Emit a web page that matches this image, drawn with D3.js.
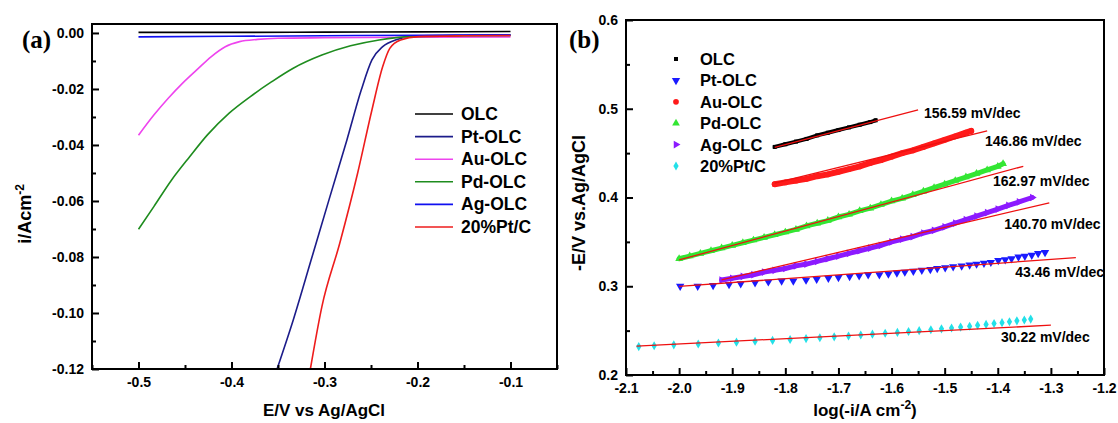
<!DOCTYPE html>
<html>
<head>
<meta charset="utf-8">
<script src="https://cdn.jsdelivr.net/npm/d3@7"></script>
<style>
  body { margin: 0; background: #fff; }
  svg { display: block; font-family: "Liberation Sans", Arial, sans-serif; font-weight: bold; }
</style>
</head>
<body>
<svg id="chart" width="1118" height="423"></svg>
<script>
// ---- panel (a): LSV curves, [E (V), i (A/cm2)]
const lsvOLC = [[-0.5, 0.0002], [-0.4, 0.0002], [-0.3, 0.0003], [-0.2, 0.0004], [-0.1, 0.0005]]
const lsvPt = [[-0.351, -0.12], [-0.3336, -0.1025], [-0.3144, -0.0811], [-0.2952, -0.0596], [-0.2759, -0.0382],
  [-0.2605, -0.0204], [-0.249, -0.0096], [-0.2374, -0.0049], [-0.222, -0.0023], [-0.2028, -0.0011], [-0.15, -0.0008], [-0.1, -0.0007]]
const lsvAu = [[-0.5, -0.0365], [-0.4835, -0.0293], [-0.468, -0.0233], [-0.4528, -0.018], [-0.4374, -0.0132],
  [-0.422, -0.0085], [-0.4067, -0.0049], [-0.3913, -0.0031], [-0.372, -0.0023], [-0.35, -0.0019], [-0.3, -0.0017],
  [-0.2, -0.0015], [-0.1, -0.0014]]
const lsvPd = [[-0.5, -0.0701], [-0.4835, -0.062], [-0.4644, -0.0525], [-0.445, -0.0442], [-0.4259, -0.0364],
  [-0.4028, -0.0287], [-0.3797, -0.0227], [-0.3567, -0.0174], [-0.3336, -0.0126], [-0.3028, -0.0079],
  [-0.272, -0.0046], [-0.2413, -0.0025], [-0.2067, -0.0013], [-0.15, -0.001], [-0.1, -0.0009]]
const lsvAg = [[-0.5, -0.0014], [-0.4, -0.0012], [-0.3, -0.001], [-0.2, -0.0008], [-0.1, -0.0007]]
const lsvPtC = [[-0.3152, -0.12], [-0.3028, -0.0977], [-0.2836, -0.0751], [-0.2644, -0.0501], [-0.249, -0.0275],
  [-0.2374, -0.012], [-0.2298, -0.0055], [-0.2182, -0.0025], [-0.199, -0.0013], [-0.15, -0.001], [-0.1, -0.0009]]

const namesA = ['OLC', 'Pt-OLC', 'Au-OLC', 'Pd-OLC', 'Ag-OLC', '20%Pt/C']
const colorsA = ['#000000', '#1c1c8a', '#ee44ee', '#1e8c1e', '#1010f0', '#ee1c1c']
const seriesA = [lsvOLC, lsvPt, lsvAu, lsvPd, lsvAg, lsvPtC]

const xTicksA = [-0.5, -0.4, -0.3, -0.2, -0.1]
const xMinorA = [-0.55, -0.45, -0.35, -0.25, -0.15, -0.05]
const yTicksA = [0, -0.02, -0.04, -0.06, -0.08, -0.1, -0.12]
const yMinorA = [-0.01, -0.03, -0.05, -0.07, -0.09, -0.11]

// ---- panel (b): Tafel plots, [log(-i), -E]
const tafOLC = [[-1.82, 0.457], [-1.8, 0.46], [-1.78, 0.463], [-1.76, 0.466], [-1.74, 0.47], [-1.72, 0.473],
  [-1.7, 0.476], [-1.68, 0.479], [-1.66, 0.482], [-1.64, 0.485], [-1.63, 0.487]]
const tafPt = [[-1.998, 0.3], [-1.965, 0.3], [-1.936, 0.301], [-1.906, 0.302], [-1.884, 0.303], [-1.857, 0.304],
  [-1.832, 0.305], [-1.807, 0.306], [-1.785, 0.306], [-1.761, 0.307], [-1.741, 0.308], [-1.719, 0.309],
  [-1.7, 0.31], [-1.679, 0.311], [-1.661, 0.312], [-1.644, 0.313], [-1.623, 0.313], [-1.606, 0.314],
  [-1.59, 0.315], [-1.575, 0.316], [-1.559, 0.317], [-1.543, 0.318], [-1.527, 0.319], [-1.514, 0.32],
  [-1.499, 0.321], [-1.484, 0.322], [-1.468, 0.323], [-1.453, 0.324], [-1.44, 0.325], [-1.426, 0.326],
  [-1.413, 0.327], [-1.399, 0.329], [-1.386, 0.33], [-1.374, 0.331], [-1.361, 0.333], [-1.349, 0.334],
  [-1.336, 0.335], [-1.324, 0.337], [-1.311, 0.338]]
const tafAu = [[-1.82, 0.415], [-1.8, 0.417], [-1.78, 0.419], [-1.76, 0.421], [-1.74, 0.424], [-1.72, 0.426],
  [-1.7, 0.429], [-1.68, 0.432], [-1.66, 0.435], [-1.64, 0.439], [-1.62, 0.442], [-1.6, 0.446], [-1.58, 0.45],
  [-1.56, 0.453], [-1.54, 0.457], [-1.52, 0.461], [-1.5, 0.465], [-1.48, 0.469], [-1.46, 0.473], [-1.45, 0.475]]
const tafPd = [[-2.0, 0.331], [-1.98, 0.334], [-1.96, 0.337], [-1.94, 0.34], [-1.92, 0.343], [-1.9, 0.346],
  [-1.88, 0.349], [-1.86, 0.352], [-1.84, 0.355], [-1.82, 0.358], [-1.8, 0.361], [-1.78, 0.364], [-1.76, 0.368],
  [-1.74, 0.371], [-1.72, 0.374], [-1.7, 0.378], [-1.68, 0.381], [-1.66, 0.385], [-1.64, 0.388], [-1.62, 0.392],
  [-1.6, 0.396], [-1.58, 0.399], [-1.56, 0.403], [-1.54, 0.407], [-1.52, 0.411], [-1.5, 0.415], [-1.48, 0.419],
  [-1.46, 0.423], [-1.44, 0.427], [-1.42, 0.431], [-1.4, 0.435], [-1.39, 0.438]]
const tafAg = [[-1.92, 0.307], [-1.9, 0.309], [-1.88, 0.311], [-1.86, 0.313], [-1.84, 0.316], [-1.82, 0.318],
  [-1.8, 0.32], [-1.78, 0.323], [-1.76, 0.325], [-1.74, 0.328], [-1.72, 0.331], [-1.7, 0.334], [-1.68, 0.337],
  [-1.66, 0.34], [-1.64, 0.343], [-1.62, 0.346], [-1.6, 0.35], [-1.58, 0.353], [-1.56, 0.356], [-1.54, 0.36],
  [-1.52, 0.363], [-1.5, 0.367], [-1.48, 0.371], [-1.46, 0.375], [-1.44, 0.379], [-1.42, 0.383], [-1.4, 0.387],
  [-1.38, 0.391], [-1.36, 0.395], [-1.335, 0.4]]
const tafPtC = [[-2.076, 0.232], [-2.047, 0.233], [-2.01, 0.234], [-1.964, 0.235], [-1.926, 0.236], [-1.892, 0.237],
  [-1.857, 0.238], [-1.824, 0.239], [-1.791, 0.24], [-1.761, 0.241], [-1.735, 0.242], [-1.708, 0.243],
  [-1.681, 0.244], [-1.658, 0.245], [-1.636, 0.246], [-1.612, 0.247], [-1.589, 0.248], [-1.568, 0.249],
  [-1.548, 0.25], [-1.526, 0.251], [-1.506, 0.252], [-1.487, 0.253], [-1.47, 0.254], [-1.453, 0.255],
  [-1.438, 0.256], [-1.422, 0.257], [-1.407, 0.258], [-1.392, 0.259], [-1.378, 0.26], [-1.364, 0.261],
  [-1.35, 0.262], [-1.338, 0.263]]

// linear fits (end points) and slopes
const fitOLC = [[-1.82, 0.4565], [-1.55, 0.4988]]
const fitPt = [[-2.0, 0.2998], [-1.253, 0.3323]]
const fitAu = [[-1.82, 0.4163], [-1.42, 0.475]]
const fitPd = [[-2.0, 0.3296], [-1.352, 0.4352]]
const fitAg = [[-1.92, 0.3072], [-1.303, 0.394]]
const fitPtC = [[-2.08, 0.2325], [-1.3, 0.2561]]
const slopeText = ['156.59 mV/dec', '43.46 mV/dec', '146.86 mV/dec', '162.97 mV/dec', '140.70 mV/dec', '30.22 mV/dec']
const slopeAt = [[-1.539, 0.495], [-1.367, 0.316], [-1.424, 0.464], [-1.409, 0.419], [-1.388, 0.37], [-1.394, 0.243]]

const namesB = ['OLC', 'Pt-OLC', 'Au-OLC', 'Pd-OLC', 'Ag-OLC', '20%Pt/C']
const colorsB = ['#000000', '#1a1aff', '#ff1a1a', '#33e633', '#8c1aff', '#22e0e8']
const seriesB = [tafOLC, tafPt, tafAu, tafPd, tafAg, tafPtC]
const fitsB = [fitOLC, fitPt, fitAu, fitPd, fitAg, fitPtC]

const xTicksB = [-2.1, -2.0, -1.9, -1.8, -1.7, -1.6, -1.5, -1.4, -1.3, -1.2]
const xMinorB = [-2.05, -1.95, -1.85, -1.75, -1.65, -1.55, -1.45, -1.35, -1.25]
const yTicksB = [0.2, 0.3, 0.4, 0.5, 0.6]
const yMinorB = [0.25, 0.35, 0.45, 0.55]

const svg = d3.select('#chart')

function frame(g, x, y, xt, xm, yt, ym, xf, yf) {
  const [x0, x1] = x.range(), [y0, y1] = y.range()
  g.append('g').attr('transform', `translate(0,${y0})`)
    .call(d3.axisBottom(x).tickValues(xm).tickSize(-4).tickFormat(''))
  g.append('g').attr('transform', `translate(0,${y0})`)
    .call(d3.axisBottom(x).tickValues(xt).tickSize(-7).tickPadding(8).tickFormat(xf))
  g.append('g').attr('transform', `translate(${x0},0)`)
    .call(d3.axisLeft(y).tickValues(ym).tickSize(-4).tickFormat(''))
  g.append('g').attr('transform', `translate(${x0},0)`)
    .call(d3.axisLeft(y).tickValues(yt).tickSize(-7).tickPadding(8).tickFormat(yf))
  g.selectAll('.domain').remove()
  g.selectAll('.tick line').attr('stroke', '#000').attr('stroke-width', 2)
  g.selectAll('.tick text').attr('fill', '#000').style('font-size', '14px')
    .style('font-family', '"Liberation Sans", Arial, sans-serif').style('font-weight', 'bold')
  g.append('rect').attr('x', x0).attr('y', y1).attr('width', x1 - x0).attr('height', y0 - y1)
    .attr('fill', 'none').attr('stroke', '#000').attr('stroke-width', 2)
}

// ---------- panel (a)
const xa = d3.scaleLinear().domain([-0.55, -0.05]).range([92, 557])
const ya = d3.scaleLinear().domain([-0.12, 0.0032]).range([369, 24])
const ga = svg.append('g')

const lineA = d3.line().x(d => xa(d[0])).y(d => ya(d[1])).curve(d3.curveMonotoneX)
ga.selectAll('path.lsv').data(seriesA).enter().append('path')
  .attr('class', 'lsv')
  .attr('d', lineA)
  .attr('fill', 'none')
  .attr('stroke', (d, i) => colorsA[i])
  .attr('stroke-width', 1.6)

frame(ga, xa, ya, xTicksA, xMinorA, yTicksA, yMinorA, d => d.toFixed(1), d => d.toFixed(2))

const legA = ga.selectAll('g.leg').data(namesA).enter().append('g')
  .attr('class', 'leg')
  .attr('transform', (d, i) => `translate(415,${114 + i * 22.6})`)
legA.append('line').attr('x1', 0).attr('x2', 38)
  .attr('stroke', (d, i) => colorsA[i]).attr('stroke-width', 1.6)
legA.append('text').attr('x', 46).attr('y', 6).style('font-size', '17.5px').text(d => d)

ga.append('text').attr('x', 324).attr('y', 416).attr('text-anchor', 'middle')
  .style('font-size', '17px').text('E/V vs Ag/AgCl')
const yTitleA = ga.append('text').attr('transform', 'translate(31,214) rotate(-90)')
  .attr('text-anchor', 'middle').style('font-size', '18px')
yTitleA.append('tspan').text('i/Acm')
yTitleA.append('tspan').attr('dy', -7).style('font-size', '12px').text('-2')
ga.append('text').attr('x', 22).attr('y', 48)
  .style('font-family', '"Liberation Serif", "Times New Roman", serif')
  .style('font-size', '25px').text('(a)')

// ---------- panel (b)
const xb = d3.scaleLinear().domain([-2.1, -1.2]).range([626, 1104])
const yb = d3.scaleLinear().domain([0.2, 0.6]).range([375, 20])
const gb = svg.append('g')

const shapes = [
  d3.symbol().type(d3.symbolSquare).size(16),
  d3.symbol().type(d3.symbolTriangle).size(30),
  d3.symbol().type(d3.symbolCircle).size(26),
  d3.symbol().type(d3.symbolTriangle).size(26),
  d3.symbol().type(d3.symbolTriangle).size(26),
  d3.symbol().type(d3.symbolDiamond).size(24)
]
const rots = [0, 180, 0, 0, 90, 0]
const dense = [true, false, true, true, true, false]

const lineB = d3.line().x(d => xb(d[0])).y(d => yb(d[1]))
seriesB.forEach((pts, i) => {
  if (dense[i]) {
    gb.append('path').datum(pts).attr('d', lineB)
      .attr('fill', 'none').attr('stroke', colorsB[i])
      .attr('stroke-width', i === 2 ? 6 : i === 0 ? 4 : 5).attr('stroke-linecap', 'round')
  }
  gb.selectAll(null).data(pts).enter().append('path')
    .attr('d', shapes[i])
    .attr('transform', d => `translate(${xb(d[0])},${yb(d[1])}) rotate(${rots[i]})`)
    .attr('fill', colorsB[i])
})

gb.selectAll('path.fit').data(fitsB).enter().append('path')
  .attr('class', 'fit')
  .attr('d', lineB)
  .attr('fill', 'none').attr('stroke', '#ee1010').attr('stroke-width', 1.3)

gb.selectAll('text.slope').data(slopeText).enter().append('text')
  .attr('class', 'slope')
  .attr('x', (d, i) => xb(slopeAt[i][0]))
  .attr('y', (d, i) => yb(slopeAt[i][1]) + 5)
  .style('font-size', '14px')
  .text(d => d)

frame(gb, xb, yb, xTicksB, xMinorB, yTicksB, yMinorB, d => d.toFixed(1), d => d.toFixed(1))

const legB = gb.selectAll('g.leg').data(namesB).enter().append('g')
  .attr('class', 'leg')
  .attr('transform', (d, i) => `translate(676,${59 + i * 21.4})`)
legB.append('path')
  .attr('d', (d, i) => shapes[i]())
  .attr('transform', (d, i) => `rotate(${rots[i]})`)
  .attr('fill', (d, i) => colorsB[i])
legB.append('text').attr('x', 24).attr('y', 6).style('font-size', '16.5px').text(d => d)

gb.append('text').attr('x', 865).attr('y', 416).attr('text-anchor', 'middle')
  .style('font-size', '17px')
  .call(t => {
    t.append('tspan').text('log(-i/A cm')
    t.append('tspan').attr('dy', -7).style('font-size', '12px').text('-2')
    t.append('tspan').attr('dy', 7).text(')')
  })
gb.append('text').attr('transform', 'translate(585,203) rotate(-90)')
  .attr('text-anchor', 'middle').style('font-size', '18px').text('-E/V vs.Ag/AgCl')
gb.append('text').attr('x', 569).attr('y', 48)
  .style('font-family', '"Liberation Serif", "Times New Roman", serif')
  .style('font-size', '25px').text('(b)')
</script>
</body>
</html>
